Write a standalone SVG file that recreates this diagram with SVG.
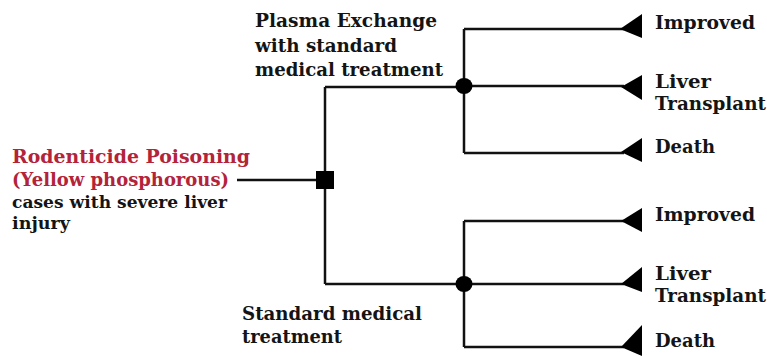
<svg xmlns="http://www.w3.org/2000/svg" width="767" height="356" viewBox="0 0 767 356">
<defs>
<style>
text{font-family:"DejaVu Serif","Liberation Serif",serif;font-weight:bold;fill:#141414}
.t{font-size:18px}
.red{fill:#b3233a}
.s{font-size:16.5px}
.ln{stroke:#111;stroke-width:2.5;fill:none}
.tri{fill:#000}
</style>
</defs>
<rect width="767" height="356" fill="#fff"/>
<g id="connectors">
<path class="ln" d="M237,180 H318"/>
<path class="ln" d="M325,87 V284"/>
<path class="ln" d="M325,87 H464"/>
<path class="ln" d="M325,284 H464"/>
<path class="ln" d="M464,29 V153 M464,29 H624 M464,86 H624 M464,153 H624"/>
<path class="ln" d="M464,221 V347 M464,221 H624 M464,284 H624 M464,347 H624"/>
</g>
<g id="root">
<rect x="316" y="171" width="18" height="18" fill="#000"/>
<text class="t red" x="12" y="163" textLength="238" lengthAdjust="spacingAndGlyphs">Rodenticide Poisoning</text>
<text class="t red" x="12" y="186" textLength="217" lengthAdjust="spacingAndGlyphs">(Yellow phosphorous)</text>
<text class="s" x="12" y="208" textLength="215" lengthAdjust="spacingAndGlyphs">cases with severe liver</text>
<text class="s" x="12" y="229" textLength="58" lengthAdjust="spacingAndGlyphs">injury</text>
</g>
<g id="chance-plasma">
<ellipse cx="464" cy="86" rx="8.5" ry="8"/>
<text class="t" x="255" y="27" textLength="182" lengthAdjust="spacingAndGlyphs">Plasma Exchange</text>
<text class="t" x="255" y="52" textLength="142" lengthAdjust="spacingAndGlyphs">with standard</text>
<text class="t" x="255" y="76" textLength="188" lengthAdjust="spacingAndGlyphs">medical treatment</text>
</g>
<g id="chance-standard">
<ellipse cx="464" cy="284" rx="8.5" ry="8"/>
<text class="t" x="242" y="320" textLength="180" lengthAdjust="spacingAndGlyphs">Standard medical</text>
<text class="t" x="242" y="343" textLength="100" lengthAdjust="spacingAndGlyphs">treatment</text>
</g>
<g id="out-1">
<polygon class="tri" points="620,29 642,14 642,38"/>
<text class="t" x="655" y="29" textLength="100" lengthAdjust="spacingAndGlyphs">Improved</text>
</g>
<g id="out-2">
<polygon class="tri" points="621,87 642,75 642,100"/>
<text class="t" x="655" y="88" textLength="56" lengthAdjust="spacingAndGlyphs">Liver</text>
<text class="t" x="655" y="110" textLength="111" lengthAdjust="spacingAndGlyphs">Transplant</text>
</g>
<g id="out-3">
<polygon class="tri" points="621,152 642,138 642,162"/>
<text class="t" x="655" y="153" textLength="60" lengthAdjust="spacingAndGlyphs">Death</text>
</g>
<g id="out-4">
<polygon class="tri" points="621,221 642,208 642,232"/>
<text class="t" x="655" y="221" textLength="100" lengthAdjust="spacingAndGlyphs">Improved</text>
</g>
<g id="out-5">
<polygon class="tri" points="621,284 642,267 642,292"/>
<text class="t" x="655" y="280" textLength="56" lengthAdjust="spacingAndGlyphs">Liver</text>
<text class="t" x="655" y="302" textLength="111" lengthAdjust="spacingAndGlyphs">Transplant</text>
</g>
<g id="out-6">
<polygon class="tri" points="621,347 642,325 642,356"/>
<text class="t" x="655" y="347" textLength="60" lengthAdjust="spacingAndGlyphs">Death</text>
</g>
</svg>
